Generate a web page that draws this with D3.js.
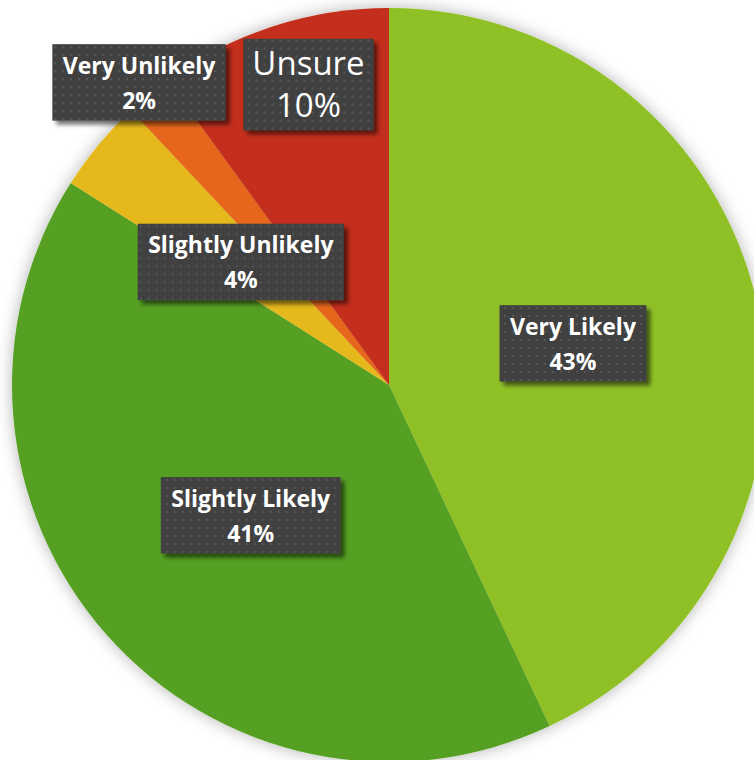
<!DOCTYPE html>
<html>
<head>
<meta charset="utf-8">
<script src="https://d3js.org/d3.v7.min.js"></script>
<style>
  html, body { margin: 0; padding: 0; background: #fff; overflow: hidden; }
  svg { display: block; }
</style>
</head>
<body>
<div id="chart"></div>
<script>
// data, clockwise from 12 o'clock
var categories = ["Very Likely", "Slightly Likely", "Slightly Unlikely", "Very Unlikely", "Unsure"];
var values = [43, 41, 4, 2, 10];
var colors = ["#8fc126", "#55a021", "#e5b91f", "#e6661a", "#c42e1b"];

// label layout: distance of box centre (share of radius) and turn from slice middle (degrees)
var labelRadius = [0.5, 0.505, 0.51, 1.04, 0.825];
var labelTurn = [0, -2, 0, 0, 3];
var labelBold = [true, true, true, true, false];

var width = 754, height = 760;
var cx = 389, cy = 385, radius = 377;

var svg = d3.select("#chart").append("svg")
    .attr("width", width)
    .attr("height", height);

var defs = svg.append("defs");

// soft glow behind the pie
var glow = defs.append("filter").attr("id", "pieShadow")
    .attr("x", "-10%").attr("y", "-10%").attr("width", "120%").attr("height", "120%");
glow.append("feGaussianBlur").attr("in", "SourceAlpha").attr("stdDeviation", 8).attr("result", "b");
glow.append("feFlood").attr("flood-color", "#000").attr("flood-opacity", 0.3);
glow.append("feComposite").attr("in2", "b").attr("operator", "in").attr("result", "s");
var m1 = glow.append("feMerge");
m1.append("feMergeNode").attr("in", "s");
m1.append("feMergeNode").attr("in", "SourceGraphic");

// drop shadow of the label boxes
var boxShadow = defs.append("filter").attr("id", "boxShadow")
    .attr("x", "-10%").attr("y", "-10%").attr("width", "130%").attr("height", "140%");
boxShadow.append("feGaussianBlur").attr("in", "SourceAlpha").attr("stdDeviation", 2).attr("result", "b");
boxShadow.append("feOffset").attr("in", "b").attr("dx", 4).attr("dy", 4).attr("result", "o");
boxShadow.append("feFlood").attr("flood-color", "#000").attr("flood-opacity", 0.55);
boxShadow.append("feComposite").attr("in2", "o").attr("operator", "in").attr("result", "s");
var m2 = boxShadow.append("feMerge");
m2.append("feMergeNode").attr("in", "s");
m2.append("feMergeNode").attr("in", "SourceGraphic");

// dotted texture of the boxes
var pat = defs.append("pattern").attr("id", "dots")
    .attr("width", 8).attr("height", 8)
    .attr("patternUnits", "userSpaceOnUse");
pat.append("rect").attr("width", 8).attr("height", 8).attr("fill", "#3f3f3f");
pat.append("rect").attr("x", 3).attr("y", 3).attr("width", 2).attr("height", 2).attr("fill", "#575757");

var data = categories.map(function(c, i) {
    return {name: c, value: values[i], color: colors[i], lr: labelRadius[i], turn: labelTurn[i], bold: labelBold[i]};
});

var pie = d3.pie()
    .sort(null)
    .value(function(d) { return d.value; });

var arc = d3.arc()
    .innerRadius(0)
    .outerRadius(radius);

var g = svg.append("g")
    .attr("transform", "translate(" + cx + "," + cy + ")");

g.append("g")
    .attr("filter", "url(#pieShadow)")
    .selectAll("path")
    .data(pie(data))
    .enter()
    .append("path")
    .attr("d", arc)
    .attr("fill", function(d) { return d.data.color; });

// labels
var labels = g.selectAll(".lbl")
    .data(pie(data))
    .enter()
    .append("g")
    .attr("class", "lbl")
    .attr("transform", function(d) {
        var a = (d.startAngle + d.endAngle) / 2 + d.data.turn * Math.PI / 180;
        var r = radius * d.data.lr;
        return "translate(" + (Math.sin(a) * r) + "," + (-Math.cos(a) * r) + ")";
    });

labels.each(function(d) {
    var el = d3.select(this);
    var big = !d.data.bold;
    var fs = big ? 33 : 23;
    var lh = big ? 42 : 35;
    var cap = fs * 0.714;
    var b1 = -lh / 2 + cap / 2, b2 = lh / 2 + cap / 2;
    var box = el.append("rect").attr("fill", "url(#dots)").attr("filter", "url(#boxShadow)");
    var t = el.append("text")
        .attr("text-anchor", "middle")
        .attr("fill", "#fff")
        .attr("font-family", "'Open Sans', 'DejaVu Sans', sans-serif")
        .attr("font-weight", big ? 400 : 700)
        .attr("font-size", fs + "px");
    t.append("tspan").attr("x", 0).attr("y", b1).text(d.data.name);
    t.append("tspan").attr("x", 0).attr("y", b2).text(d.data.value + "%");
    var w = t.node().getBBox().width;
    var padX = big ? 9 : 10, padTop = big ? 13 : 13, padBot = big ? 13 : 12;
    box.attr("x", -w / 2 - padX)
        .attr("y", b1 - cap - padTop)
        .attr("width", w + padX * 2)
        .attr("height", (b2 + padBot) - (b1 - cap - padTop));
});
</script>
</body>
</html>
